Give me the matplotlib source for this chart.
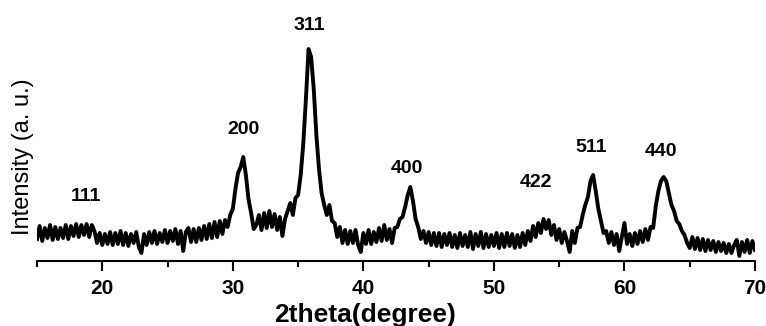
import numpy as np
import matplotlib
matplotlib.use('Agg')
import matplotlib.pyplot as plt
from matplotlib.ticker import MultipleLocator

plt.rcParams['font.family'] = ['Liberation Sans', 'DejaVu Sans']

# XRD pattern, every 0.2 degree from 15 to 70
start, step = 15.0, 0.2
intensity = [
    22, 35, 20, 33, 23, 36, 21, 34, 22, 33,   # 15.0 - 16.8
    23, 36, 22, 35, 25, 37, 24, 36, 26, 37,   # 17.0 - 18.8
    24, 36, 30, 18, 28, 16, 27, 17, 29, 16,   # 19.0 - 20.8
    28, 17, 30, 16, 28, 15, 27, 18, 29, 14,   # 21.0 - 22.8
    8, 27, 16, 29, 18, 30, 17, 28, 19, 31,    # 23.0 - 24.8
    18, 30, 20, 32, 17, 30, 10, 29, 33, 19,   # 25.0 - 26.8
    32, 19, 33, 21, 35, 22, 37, 23, 39, 24,   # 27.0 - 28.8
    40, 27, 41, 34, 46, 52, 72, 88, 94, 104,  # 29.0 - 30.8
    86, 62, 48, 32, 36, 46, 31, 48, 33, 50,   # 31.0 - 32.8
    34, 47, 31, 44, 25, 42, 50, 58, 46, 63,   # 33.0 - 34.8
    66, 86, 118, 162, 212, 204, 172, 126, 92, 68,  # 35.0 - 36.8
    56, 46, 56, 40, 38, 24, 34, 18, 31, 17,   # 37.0 - 38.8
    30, 18, 31, 16, 9, 28, 17, 31, 17, 29,    # 39.0 - 40.8
    19, 33, 20, 36, 21, 32, 18, 33, 34, 42,   # 41.0 - 42.8
    44, 54, 66, 74, 60, 42, 34, 22, 30, 18,   # 43.0 - 44.8
    29, 16, 28, 15, 28, 14, 27, 16, 28, 14,   # 45.0 - 46.8
    26, 13, 28, 15, 26, 14, 29, 12, 27, 15,   # 47.0 - 48.8
    29, 13, 27, 14, 26, 15, 28, 13, 27, 14,   # 49.0 - 50.8
    28, 15, 27, 13, 26, 14, 28, 16, 30, 20,   # 51.0 - 52.8
    35, 24, 38, 28, 42, 32, 41, 26, 36, 21,   # 53.0 - 54.8
    32, 18, 29, 20, 9, 30, 18, 33, 34, 46,    # 55.0 - 56.8
    56, 64, 80, 86, 70, 52, 40, 28, 30, 18,   # 57.0 - 58.8
    29, 16, 27, 10, 24, 38, 17, 27, 15, 28,   # 59.0 - 60.8
    17, 30, 19, 32, 21, 34, 33, 55, 70, 80,   # 61.0 - 62.8
    84, 80, 68, 56, 50, 40, 37, 30, 26, 18,   # 63.0 - 64.8
    13, 24, 12, 23, 11, 22, 10, 21, 11, 20,   # 65.0 - 66.8
    9, 19, 10, 18, 8, 17, 8, 16, 21, 5,       # 67.0 - 68.8
    19, 9, 21, 8, 20, 11,                     # 69.0 - 70.0
]
two_theta = start + step * np.arange(len(intensity))

# peak labels (hkl) and where they sit
peak_names = ['111', '200', '311', '400', '422', '511', '440']
peak_x = [18.75, 30.79, 35.84, 43.33, 53.24, 57.45, 62.78]
peak_y = [64.5, 131, 236, 92.5, 78.5, 113.5, 109]

fig = plt.figure(figsize=(7.66, 3.26), dpi=100)
ax = fig.add_axes([37 / 766, 65 / 326, 718 / 766, 251 / 326])

ax.plot(two_theta, intensity, color='black', lw=2.8)

for name, px, py in zip(peak_names, peak_x, peak_y):
    ax.text(px, py, name, ha='center', va='center', fontsize=14, fontweight='bold')

ax.set_xlim(15, 70)
ax.set_ylim(0, 251)
for s in ['left', 'top', 'right']:
    ax.spines[s].set_visible(False)
ax.spines['bottom'].set_linewidth(1.5)
ax.set_yticks([])
ax.xaxis.set_major_locator(MultipleLocator(10))
ax.xaxis.set_minor_locator(MultipleLocator(5))
ax.tick_params(axis='x', which='major', direction='out', length=7, width=1.5, pad=6, labelsize=15)
ax.tick_params(axis='x', which='minor', direction='out', length=4, width=1.5)
for lab in ax.get_xticklabels():
    lab.set_fontweight('bold')

fig.text(365.5 / 766, 4 / 326, '2theta(degree)', ha='center', va='baseline', fontsize=19, fontweight='bold')
fig.text(23 / 766, 1 - 157 / 326, 'Intensity (a. u.)', ha='center', va='center', rotation=90, fontsize=17)

fig.savefig('out.png', dpi=100)
